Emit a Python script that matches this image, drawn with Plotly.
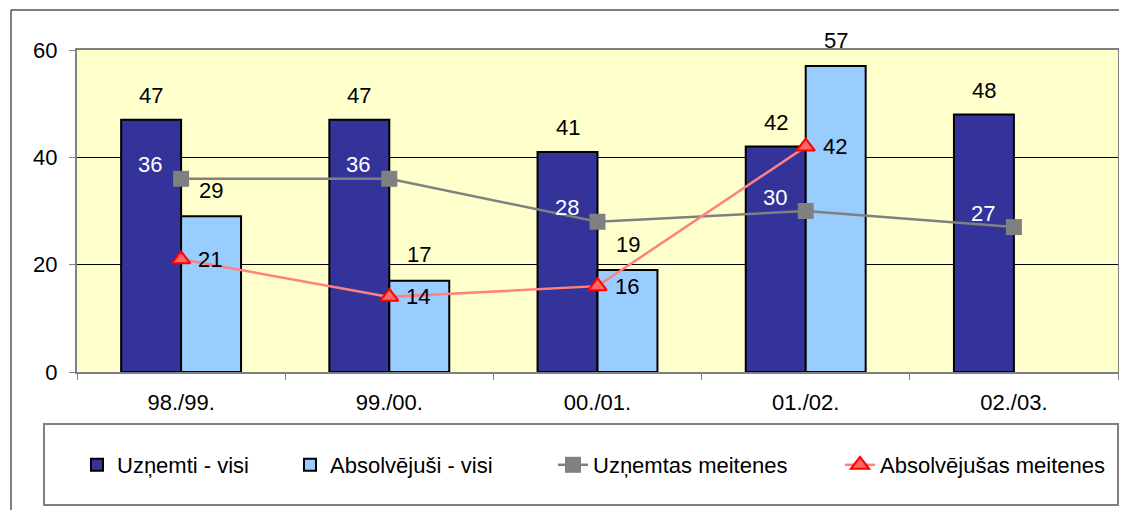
import plotly.graph_objects as go

categories = ["98./99.", "99./00.", "00./01.", "01./02.", "02./03."]
uznemti_visi = [47, 47, 41, 42, 48]
absolvejusi_visi = [29, 17, 19, 57, None]
uznemtas_meitenes = [36, 36, 28, 30, 27]
absolvejusas_meitenes = [21, 14, 16, 42, None]

FONT = "Liberation Sans, Arial, sans-serif"
FS = 22

fig = go.Figure()
fig.add_trace(go.Bar(x=categories, y=uznemti_visi, name="Uzņemti - visi",
                     marker=dict(color="#333399", line=dict(color="black", width=2)),
                     legend="legend"))
fig.add_trace(go.Bar(x=categories, y=absolvejusi_visi, name="Absolvējuši - visi",
                     marker=dict(color="#99CCFF", line=dict(color="black", width=2)),
                     legend="legend2"))
fig.add_trace(go.Scatter(x=categories, y=uznemtas_meitenes, name="Uzņemtas meitenes",
                         mode="lines+markers",
                         line=dict(color="#808080", width=2.5),
                         marker=dict(symbol="square", size=16, color="#808080"),
                         legend="legend3"))
fig.add_trace(go.Scatter(x=categories, y=absolvejusas_meitenes, name="Absolvējušas meitenes",
                         mode="lines+markers",
                         line=dict(color="#FF8080", width=2.5),
                         marker=dict(symbol="triangle-up", size=16, color="#FF6666",
                                     line=dict(color="#FF0000", width=2)),
                         legend="legend4"))
for tr in fig.data:
    tr.showlegend = True

ann = []
for c, v in zip(categories, uznemti_visi):
    if v is not None:
        ann.append(dict(x=c, y=v, text=str(v), xshift=-30, yshift=24, showarrow=False,
                        font=dict(color="black", size=FS, family=FONT)))
for c, v in zip(categories, absolvejusi_visi):
    if v is not None:
        ann.append(dict(x=c, y=v, text=str(v), xshift=30, yshift=26, showarrow=False,
                        font=dict(color="black", size=FS, family=FONT)))
for c, v in zip(categories, uznemtas_meitenes):
    if v is not None:
        ann.append(dict(x=c, y=v, text=str(v), xshift=-31, yshift=14, showarrow=False,
                        font=dict(color="white", size=FS, family=FONT)))
for c, v in zip(categories, absolvejusas_meitenes):
    if v is not None:
        ann.append(dict(x=c, y=v, text=str(v), xshift=29, yshift=0, showarrow=False,
                        font=dict(color="black", size=FS, family=FONT)))

# the page body adds an 8px offset; compensate so screen positions match
OFF = 8
W, H = 1127 - OFF, 510 - OFF
L, R, T, B = 77 - OFF, 9, 50 - OFF, 138
pw, ph = W - L - R, H - T - B

def px2paper_x(px):  # px in screen coords
    return (px - OFF - L) / pw

def px2paper_y(py):
    return (H - B - (py - OFF)) / ph

shapes = [
    dict(type="rect", xref="paper", yref="paper",
         x0=px2paper_x(11), x1=px2paper_x(1140), y0=px2paper_y(530), y1=px2paper_y(10),
         line=dict(color="black", width=1), layer="below"),
    dict(type="rect", xref="paper", yref="paper",
         x0=px2paper_x(44), x1=px2paper_x(1118), y0=px2paper_y(505), y1=px2paper_y(424),
         line=dict(color="#808080", width=2), layer="below"),
]

leg_common = dict(orientation="h", xref="container", yref="container",
                  yanchor="middle", xanchor="left", y=1 - (465 - OFF) / H,
                  bgcolor="rgba(0,0,0,0)", borderwidth=0, visible=True,
                  font=dict(family=FONT, size=FS, color="black"))

fig.update_layout(
    width=W, height=H,
    margin=dict(l=L, r=R, t=T, b=B, autoexpand=False),
    paper_bgcolor="white",
    plot_bgcolor="#FFFFCC",
    font=dict(family=FONT, size=FS, color="black"),
    barmode="group",
    bargap=0.424,
    bargroupgap=0,
    showlegend=True,
    annotations=ann,
    shapes=shapes,
    legend=dict(x=69 / W, **leg_common),
    legend2=dict(x=282 / W, **leg_common),
    legend3=dict(x=545 / W, **leg_common),
    legend4=dict(x=832 / W, **leg_common),
)
fig.update_xaxes(type="category", showline=True, linecolor="#808080", linewidth=2, mirror=True,
                 ticks="outside", tickson="boundaries", ticklen=6, tickcolor="#808080",
                 automargin=False,
                 tickfont=dict(size=FS, family=FONT, color="black"), ticklabelstandoff=10)
fig.update_yaxes(range=[0, 60], dtick=20, showline=True, linecolor="#808080", linewidth=2, mirror=True,
                 ticks="outside", ticklen=6, tickcolor="#808080", automargin=False,
                 showgrid=True, gridcolor="black", gridwidth=1, zeroline=False,
                 tickfont=dict(size=FS, family=FONT, color="black"), ticklabelstandoff=7)

fig.write_html("out.html")
